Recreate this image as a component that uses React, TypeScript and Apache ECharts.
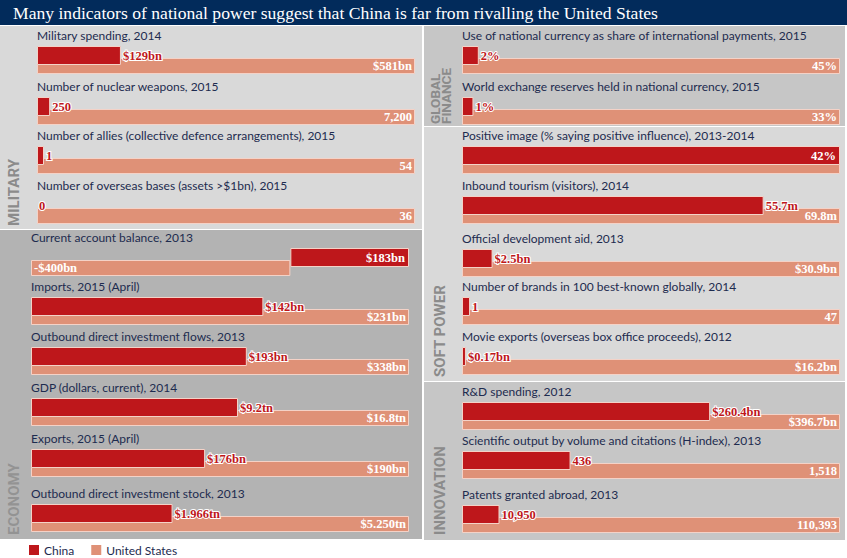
import React, { useEffect, useRef } from 'react';
import * as echarts from 'echarts';

// ---------- DATA ----------
const TITLE = 'Many indicators of national power suggest that China is far from rivalling the United States';

const militaryCategories = [
  'Military spending, 2014',
  'Number of nuclear weapons, 2015',
  'Number of allies (collective defence arrangements), 2015',
  'Number of overseas bases (assets >$1bn), 2015',
];
const militaryChina = [129, 250, 1, 0];
const militaryUS = [581, 7200, 54, 36];
const militaryChinaLabels = ['$129bn', '250', '1', '0'];
const militaryUSLabels = ['$581bn', '7,200', '54', '36'];

const economyCategories = [
  'Current account balance, 2013',
  'Imports, 2015 (April)',
  'Outbound direct investment flows, 2013',
  'GDP (dollars, current), 2014',
  'Exports, 2015 (April)',
  'Outbound direct investment stock, 2013',
];
const economyChina = [183, 142, 193, 9.2, 87.5, 1.966];
const economyUS = [-400, 231, 338, 16.8, 190, 5.25];
const economyChinaLabels = ['$183bn', '$142bn', '$193bn', '$9.2tn', '$176bn', '$1.966tn'];
const economyUSLabels = ['-$400bn', '$231bn', '$338bn', '$16.8tn', '$190bn', '$5.250tn'];

const financeCategories = [
  'Use of national currency as share of international payments, 2015',
  'World exchange reserves held in national currency, 2015',
];
const financeChina = [2, 1];
const financeUS = [45, 33];
const financeChinaLabels = ['2%', '1%'];
const financeUSLabels = ['45%', '33%'];

const softCategories = [
  'Positive image (% saying positive influence), 2013-2014',
  'Inbound tourism (visitors), 2014',
  'Official development aid, 2013',
  'Number of brands in 100 best-known globally, 2014',
  'Movie exports (overseas box office proceeds), 2012',
];
const softChina = [42, 55.7, 2.5, 1, 0.17];
const softUS = [42, 69.8, 30.9, 47, 16.2];
const softChinaLabels = ['42%', '55.7m', '$2.5bn', '1', '$0.17bn'];
const softUSLabels = ['', '69.8m', '$30.9bn', '47', '$16.2bn'];

const innovationCategories = [
  'R&D spending, 2012',
  'Scientific output by volume and citations (H-index), 2013',
  'Patents granted abroad, 2013',
];
const innovationChina = [260.4, 436, 10950];
const innovationUS = [396.7, 1518, 110393];
const innovationChinaLabels = ['$260.4bn', '436', '10,950'];
const innovationUSLabels = ['$396.7bn', '1,518', '110,393'];

const legendNames = ['China', 'United States'];

// ---------- STYLE / LAYOUT ----------
const NAVY = '#022b5b';
const TEXT = '#1d2b4f';
const RED = '#be171b';
const SALMON = '#df9177';
const BAR_BORDER = '#f4d2c7';
const BAR_W = 378;
const CHINA_H = 19;
const US_OFFSET = 12;
const US_H = 16;
const LABEL_FONT = 'Liberation Serif';

const panels = [
  {
    titles: ['MILITARY'], titleXs: [14], titleBottom: 226, titleSize: 15, titleColor: '#8b8b8b',
    rect: [0, 26, 422, 203], bg: '#d9d9d9', barX: 37, tops: [46, 97, 146, 196],
    categories: militaryCategories, china: militaryChina, us: militaryUS,
    chinaLabels: militaryChinaLabels, usLabels: militaryUSLabels,
  },
  {
    titles: ['ECONOMY'], titleXs: [14], titleBottom: 535, titleSize: 15, titleColor: '#939393',
    rect: [0, 230, 422, 309], bg: '#b3b3b3', barX: 31, tops: [248, 297, 347, 398, 449, 504],
    categories: economyCategories, china: economyChina, us: economyUS,
    chinaLabels: economyChinaLabels, usLabels: economyUSLabels,
  },
  {
    titles: ['GLOBAL', 'FINANCE'], titleXs: [435, 446], titleBottom: 124, titleSize: 13.5, titleColor: '#8b8b8b',
    rect: [424, 26, 421, 100], bg: '#c6c6c6', barX: 462, tops: [46, 97],
    categories: financeCategories, china: financeChina, us: financeUS,
    chinaLabels: financeChinaLabels, usLabels: financeUSLabels,
  },
  {
    titles: ['SOFT POWER'], titleXs: [440], titleBottom: 377, titleSize: 15, titleColor: '#8b8b8b',
    rect: [424, 127, 421, 254], bg: '#d9d9d9', barX: 462, tops: [146, 196, 249, 297, 347],
    categories: softCategories, china: softChina, us: softUS,
    chinaLabels: softChinaLabels, usLabels: softUSLabels,
  },
  {
    titles: ['INNOVATION'], titleXs: [440], titleBottom: 535, titleSize: 15, titleColor: '#8b8b8b',
    rect: [424, 382, 421, 158], bg: '#c6c6c6', barX: 462, tops: [402, 451, 505],
    categories: innovationCategories, china: innovationChina, us: innovationUS,
    chinaLabels: innovationChinaLabels, usLabels: innovationUSLabels,
  },
];

function buildOption() {
  const grids: any[] = [];
  const xAxes: any[] = [];
  const yAxes: any[] = [];
  const series: any[] = [];
  const graphics: any[] = [];

  graphics.push({ type: 'rect', shape: { x: 0, y: 0, width: 847, height: 25 }, style: { fill: NAVY }, z: 0 });
  graphics.push({
    type: 'text', x: 13, y: 13, z: 10,
    style: { text: TITLE, fill: '#ffffff', fontSize: 17.6, fontFamily: 'Liberation Serif', align: 'left', verticalAlign: 'middle' },
  });

  panels.forEach((p) => {
    const [rx, ry, rw, rh] = p.rect;
    graphics.push({ type: 'rect', shape: { x: rx, y: ry, width: rw, height: rh }, style: { fill: p.bg }, z: 0 });
    p.titles.forEach((t, k) => {
      graphics.push({
        type: 'text', x: p.titleXs[k], y: p.titleBottom, rotation: Math.PI / 2, z: 10,
        style: { text: t, fill: p.titleColor, fontSize: p.titleSize, fontWeight: 'bold', fontFamily: 'Roboto', align: 'left', verticalAlign: 'middle' },
      });
    });

    p.categories.forEach((cat, i) => {
      const top = p.tops[i];
      const cv = p.china[i];
      const uv = p.us[i];
      const lo = Math.min(0, cv, uv);
      const hi = Math.max(0, cv, uv);

      graphics.push({
        type: 'text', x: p.barX, y: top - 11, z: 10,
        style: { text: cat, fill: TEXT, fontSize: 12, fontFamily: 'Lato', align: 'left', verticalAlign: 'middle' },
      });

      const addBar = (name: string, value: number, gTop: number, gH: number, color: string, label: any, z: number) => {
        const gi = grids.length;
        grids.push({ left: p.barX, top: gTop, width: BAR_W, height: gH, containLabel: false });
        xAxes.push({ type: 'value', gridIndex: gi, min: lo, max: hi, show: false });
        yAxes.push({ type: 'category', gridIndex: gi, data: [cat], show: false });
        series.push({
          type: 'bar', name, xAxisIndex: gi, yAxisIndex: gi, z, silent: true,
          data: [value], barWidth: gH,
          itemStyle: { color, borderColor: BAR_BORDER, borderWidth: value === 0 ? 0 : 1 },
          label,
        });
      };

      const usText = p.usLabels[i];
      addBar('United States', uv, top + US_OFFSET, US_H, SALMON, {
        show: usText !== '',
        position: uv < 0 ? 'insideLeft' : 'insideRight',
        distance: 3,
        formatter: () => usText,
        color: '#ffffff',
        fontFamily: LABEL_FONT, fontWeight: 'bold', fontSize: 12.5,
      }, 2);

      const cText = p.chinaLabels[i];
      const inside = cv > 0 && cv >= Math.max(uv, 0);
      addBar('China', cv, top, CHINA_H, RED, {
        show: true,
        position: inside ? 'insideRight' : 'right',
        distance: inside ? 4 : 2,
        formatter: () => cText,
        color: inside ? '#ffffff' : RED,
        textBorderColor: inside ? 'transparent' : '#ffffff',
        textBorderWidth: inside ? 0 : 2,
        fontFamily: LABEL_FONT, fontWeight: 'bold', fontSize: 12.5,
      }, 3);
    });
  });

  return {
    animation: false,
    backgroundColor: '#ffffff',
    grid: grids,
    xAxis: xAxes,
    yAxis: yAxes,
    series,
    graphic: { elements: graphics },
    legend: {
      data: legendNames,
      left: 29, top: 544, padding: 0,
      icon: 'rect', itemWidth: 10, itemHeight: 10, itemGap: 17,
      selectedMode: false,
      itemStyle: { borderWidth: 0 },
      textStyle: { color: TEXT, fontSize: 12, fontFamily: 'Lato' },
    },
  };
}

export default function App() {
  const ref = useRef<HTMLDivElement>(null);
  useEffect(() => {
    if (!ref.current) return;
    const chart = echarts.init(ref.current, undefined, { renderer: 'svg' });
    chart.setOption(buildOption() as any);
    return () => chart.dispose();
  }, []);
  return <div ref={ref} style={{ position: 'absolute', left: 0, top: 0, width: 847, height: 558 }} />;
}
